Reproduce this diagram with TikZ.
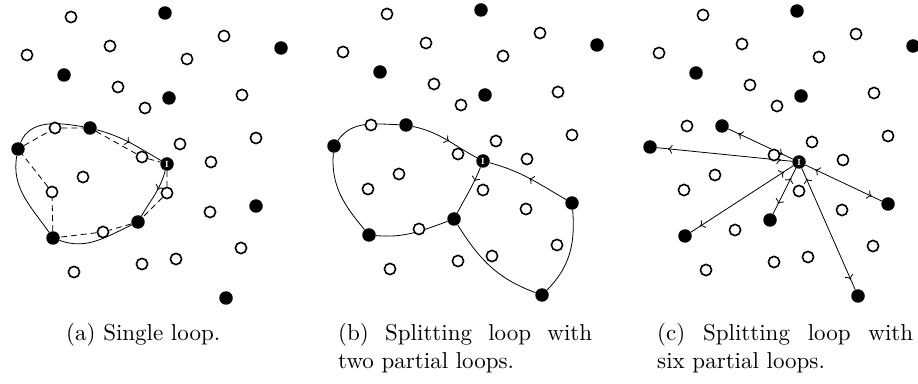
\documentclass[tikz,border=0pt]{standalone}
\usepackage{fontspec}
\newfontfamily\capfont{lmroman10-regular}[Extension=.otf]
\usetikzlibrary{arrows.meta,decorations.markings,backgrounds}
\tikzset{
  opn/.style={circle,draw,line width=1.6pt,fill=white,minimum size=11.2pt,inner sep=0pt},
  fil/.style={circle,fill=black,minimum size=13.5pt,inner sep=0pt},
  inode/.style={circle,fill=black,minimum size=13.5pt,inner sep=0pt,text=white,font=\fontsize{9}{9}\selectfont\bfseries},
  cmtip/.tip={Computer Modern Rightarrow[length=4.5pt,width=9pt]},
  wire/.style={line width=0.8pt},
  dwire/.style={line width=0.8pt,dash pattern=on 6pt off 4pt},
  marr/.style={postaction={decorate},decoration={markings,mark=at position #1 with {\arrow{cmtip}}}},
  sarr/.style={postaction={decorate},decoration={markings,mark=at position 11pt with {\arrowreversed{cmtip}},mark=at position -11pt with {\arrow{cmtip}}}},
  captxt/.style={anchor=base west,inner sep=0pt,font=\capfont\fontsize{23}{28}\selectfont}
}
\newcommand{\placepts}[1]{%
  \foreach \n/\x/\y in {o1/71/366,o2/110/337,o3/27/328,o4/187/324,o5/224/347,o6/118/296,o7/145/275,o8/242/288,o9/180/239,o10/256/245,o11/211/221,o12/55/255,o13/142/226,o14/83/206,o15/52/191,o16/167/190,o17/210/171,o18/103/151,o19/241/135,o20/176/124,o21/142/119,o22/74/111}
    {\node[opn] (#1\n) at (\x,\y) {};}
  \foreach \n/\x/\y in {f1/165/370,f2/281/335,f3/64/308,f4/169/285,f5/90/255,f6/18/234,f7/256/177,f8/138/161,f9/53/145,f10/226/85}
    {\node[fil] (#1\n) at (\x,\y) {};}
  \node[inode] (#1I) at (167,219) {I};
}
\begin{document}
\begin{tikzpicture}[x=1pt,y=1pt]
\useasboundingbox (0,0) rectangle (918,383);
% panel (a)
\begin{scope}
  \placepts{a}
\end{scope}
% panel (b)
\begin{scope}[shift={(316,3)}]
  \placepts{b}
\end{scope}
% panel (c)
\begin{scope}[shift={(632,2)}]
  \placepts{c}
\end{scope}
\begin{scope}[on background layer]
  % (a) single loop
  \draw[wire,marr=0.5] (af5) to[out=-15,in=150] (aI);
  \draw[wire,marr=0.4] (aI) to[out=-105,in=60] (af8);
  \draw[wire] (af8) to[out=-155,in=-20] (af9);
  \draw[wire] (af9) to[out=125,in=-100] (af6);
  \draw[wire] (af6) to[out=68,in=170] (af5);
  \draw[dwire] (af6) -- (ao12) -- (af5) -- (ao13) -- (aI) -- (ao16) -- (af8) -- (ao18) -- (af9) -- (ao15) -- (af6);
  % (b) two partial loops
  \draw[wire,marr=0.55] (bf5) to[out=-12,in=152] (bI);
  \draw[wire,marr=0.3] (bI) to[out=-112,in=62] (bf8);
  \draw[wire] (bf8) to[out=-160,in=-5] (bf9);
  \draw[wire] (bf9) to[out=130,in=-95] (bf6);
  \draw[wire] (bf6) to[out=55,in=178] (bf5);
  \draw[wire] (bf8) to[out=-58,in=160] (bf10);
  \draw[wire] (bf10) to[out=45,in=-85] (bf7);
  \draw[wire,marr=0.5] (bf7) to[out=150,in=-15] (bI);
  % (c) six partial loops
  \foreach \t in {f5,f6,f8,f9,f7,f10}
    {\draw[wire,sarr] (cI) -- (c\t);}
\end{scope}
% captions
\node[captxt] (capa) at (66,42.5) {(a) Single loop.};
\node[captxt] (capb) at (338,42.5) {\begin{tabular}[t]{@{}l@{}}\makebox[254pt][s]{(b) Splitting loop with}\\two partial loops.\end{tabular}};
\node[captxt] (capc) at (657,42.5) {\begin{tabular}[t]{@{}l@{}}\makebox[256pt][s]{(c) Splitting loop with}\\six partial loops.\end{tabular}};
\end{tikzpicture}
\end{document}
